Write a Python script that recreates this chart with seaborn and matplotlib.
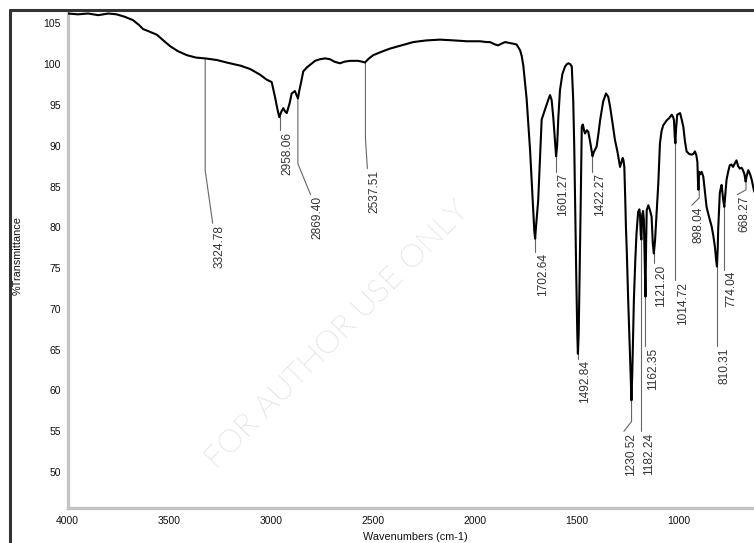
import matplotlib
matplotlib.use("Agg")
import numpy as np
import pandas as pd
import seaborn as sns
import matplotlib.pyplot as plt
from matplotlib.ticker import MultipleLocator
from matplotlib.lines import Line2D

# ---------------- data ----------------
wavenumbers = [
    4000, 3950, 3900, 3850, 3800, 3760, 3720, 3680, 3650, 3630, 3600, 3562, 3530, 3497,
    3460, 3415, 3370, 3325, 3267, 3220, 3186, 3150, 3104, 3055, 3023, 2998, 2982, 2970,
    2961, 2950, 2941, 2932, 2924, 2910, 2900, 2884, 2876, 2869, 2862, 2855, 2843, 2825,
    2810, 2785, 2761, 2735, 2712, 2690, 2663, 2640, 2613, 2590, 2573, 2555, 2540, 2520,
    2499, 2460, 2417, 2360, 2303, 2240, 2171, 2100, 2040, 1975, 1942, 1926, 1900, 1885,
    1870, 1852, 1830, 1811, 1795, 1778, 1770, 1762, 1746, 1729, 1716, 1708, 1704, 1700,
    1689, 1680, 1672, 1656, 1640, 1631, 1623, 1615, 1607, 1601, 1596, 1590, 1582, 1570,
    1557, 1548, 1541, 1532, 1524, 1517, 1512, 1508, 1502, 1497, 1494, 1490, 1485, 1480,
    1475, 1470, 1467, 1463, 1459, 1450, 1443, 1434, 1426, 1422, 1416, 1402, 1393, 1385,
    1370, 1356, 1345, 1336, 1324, 1312, 1300, 1287, 1280, 1274, 1270, 1266, 1262, 1258,
    1254, 1247, 1240, 1235, 1231, 1227, 1219, 1212, 1206, 1198, 1192, 1189, 1185, 1182,
    1178, 1174, 1170, 1166, 1162, 1159, 1156, 1148, 1140, 1132, 1126, 1121, 1115, 1107,
    1099, 1091, 1083, 1075, 1058, 1045, 1033, 1026, 1022, 1018, 1015, 1012, 1006, 992,
    985, 976, 968, 960, 948, 935, 927, 919, 912, 907, 904, 902, 900, 898, 893, 886, 878,
    870, 862, 850, 837, 829, 821, 815, 811, 807, 805, 797, 792, 788, 784, 780, 775, 770,
    764, 756, 748, 740, 732, 724, 715, 707, 699, 690, 683, 676, 670, 665, 657, 648, 640,
    630, 624,
]
transmittance = [
    106.2, 106.1, 106.2, 106.0, 106.2, 106.1, 105.8, 105.4, 104.8, 104.3, 104.0, 103.6, 102.9, 102.2,
    101.6, 101.1, 100.8, 100.7, 100.5, 100.2, 100.0, 99.8, 99.4, 98.7, 98.1, 97.8, 96.0, 94.5,
    93.5, 94.2, 94.6, 94.2, 94.0, 95.2, 96.4, 96.7, 96.2, 95.8, 96.8, 97.6, 99.1, 99.6,
    99.9, 100.4, 100.6, 100.7, 100.6, 100.3, 100.1, 100.3, 100.4, 100.4, 100.4, 100.3, 100.2, 100.7,
    101.1, 101.5, 101.9, 102.3, 102.7, 102.9, 103.0, 102.9, 102.8, 102.8, 102.7, 102.7, 102.4, 102.3,
    102.5, 102.7, 102.6, 102.5, 102.4, 101.7, 101.0, 99.8, 95.8, 89.5, 83.3, 79.5, 78.6, 80.0,
    83.3, 88.5, 93.2, 94.4, 95.6, 96.2, 95.6, 93.5, 90.7, 88.7, 90.0, 93.5, 96.8, 98.8,
    99.7, 100.0, 100.1, 100.0, 99.7, 95.6, 90.0, 83.3, 74.0, 67.0, 64.5, 67.0, 75.0, 83.3,
    92.3, 92.6, 92.3, 91.8, 91.5, 91.9, 91.7, 90.5, 89.3, 88.7, 89.2, 89.9, 91.5, 93.1,
    95.4, 96.4, 96.0, 94.8, 92.8, 90.7, 89.3, 87.4, 88.0, 88.5, 88.2, 87.4, 84.0, 80.0,
    77.2, 71.1, 66.0, 62.0, 58.8, 62.0, 71.1, 76.0, 79.3, 81.9, 82.2, 81.6, 79.0, 78.5,
    81.5, 82.0, 80.9, 76.0, 71.5, 78.0, 82.1, 82.7, 82.1, 81.3, 78.0, 76.8, 78.4, 82.0,
    85.4, 90.3, 91.8, 92.5, 93.1, 93.4, 93.8, 93.5, 93.1, 91.0, 90.3, 92.0, 93.8, 94.0,
    93.3, 92.3, 90.5, 89.3, 89.0, 88.9, 89.0, 89.3, 88.8, 88.0, 85.5, 84.6, 86.0, 86.8, 86.5, 86.8, 86.2,
    84.3, 82.5, 81.3, 80.1, 79.0, 77.6, 76.0, 75.2, 77.5, 79.7, 84.2, 84.8, 85.2, 84.3, 83.3, 82.5, 84.0,
    85.8, 86.8, 87.6, 87.7, 87.4, 87.8, 88.2, 87.5, 87.2, 87.3, 87.0, 86.5, 85.6, 86.3, 87.0, 86.5, 85.8,
    84.6, 84.2,
]

peak_labels = ["3324.78", "2958.06", "2869.40", "2537.51", "1702.64", "1601.27",
               "1492.84", "1422.27", "1230.52", "1182.24", "1162.35", "1121.20",
               "1014.72", "898.04", "810.31", "774.04", "668.27"]
peak_wavenumbers = [float(s) for s in peak_labels]

# layout of leader lines: (bend transmittance, end wavenumber, end transmittance)
label_layout = {
    "3324.78": (87.0, 3288, 80.5),
    "2958.06": (91.9, None, 91.9),
    "2869.40": (87.8, 2807, 84.0),
    "2537.51": (90.9, 2528, 87.2),
    "1702.64": (77.0, None, 77.0),
    "1601.27": (86.8, None, 86.8),
    "1492.84": (63.9, None, 63.9),
    "1422.27": (86.8, None, 86.8),
    "1230.52": (56.2, 1268, 55.0),
    "1182.24": (55.0, None, 55.0),
    "1162.35": (65.4, None, 65.4),
    "1121.20": (75.6, None, 75.6),
    "1014.72": (73.5, None, 73.5),
    "898.04": (83.6, 935, 82.7),
    "810.31": (65.4, None, 65.4),
    "774.04": (74.8, None, 74.8),
    "668.27": (84.6, 711, 84.0),
}

x_ticks = [4000, 3500, 3000, 2500, 2000, 1500, 1000]
y_ticks = [50, 55, 60, 65, 70, 75, 80, 85, 90, 95, 100, 105]

# ---------------- style ----------------
sns.set_style("white")
plt.rcParams["font.family"] = ["Liberation Sans", "DejaVu Sans"]

W, H = 754, 543
fig = plt.figure(figsize=(W / 100, H / 100), dpi=100)
ax = fig.add_axes([67.7 / W, 35 / H, (W - 67.7) / W, 497.5 / H])

df = pd.DataFrame({"wavenumber": wavenumbers, "transmittance": transmittance})
sns.lineplot(data=df, x="wavenumber", y="transmittance", sort=False, estimator=None,
             color="black", linewidth=1.5, ax=ax, zorder=3)

ax.set_xlim(4000, 629)
ax.set_ylim(45.6, 106.57)
ax.set_xticks(x_ticks)
ax.set_yticks(y_ticks)
ax.xaxis.set_minor_locator(MultipleLocator(100))
ax.yaxis.set_minor_locator(MultipleLocator(1))
ax.tick_params(axis="both", which="major", labelsize=7.5, length=3, width=1,
               color="#222222", direction="out", pad=2, labelcolor="#111111")
ax.tick_params(axis="both", which="minor", length=1.6, width=1, color="#333333", direction="out")
ax.tick_params(axis="x", which="major", pad=3)
ax.set_xlabel("")
ax.set_ylabel("")
for s in ["top", "right"]:
    ax.spines[s].set_visible(False)
for s in ["left", "bottom"]:
    ax.spines[s].set_color("#c4c4c4")
    ax.spines[s].set_linewidth(2.4)

# peak annotations
wn_rev = np.array(wavenumbers[::-1], dtype=float)
tr_rev = np.array(transmittance[::-1], dtype=float)
for lab, wp in zip(peak_labels, peak_wavenumbers):
    t_bend, w_end, t_end = label_layout[lab]
    if w_end is None:
        w_end = wp
    t_start = float(np.interp(wp, wn_rev, tr_rev))
    ax.plot([wp, wp, w_end], [t_start, t_bend, t_end], color="#666666", lw=0.8, zorder=2)
    ax.annotate(lab, xy=(w_end, t_end), xytext=(5.2, -1.0), textcoords="offset points",
                rotation=90, ha="center", va="top", fontsize=8.6, color="#333333")

# watermark
ax.text(2677, 66.8, "FOR AUTHOR USE ONLY", rotation=45.5, rotation_mode="anchor",
        fontsize=23, color="#bdbdbd", ha="center", va="center", zorder=1,
        family=["Lato", "Liberation Sans", "DejaVu Sans"], fontweight="light")

# axis titles
fig.text(415 / W, 1 - 537 / H, "Wavenumbers (cm-1)", ha="center", va="center",
         fontsize=7.8, color="#111111")
fig.text(18 / W, 1 - 256 / H, "%Transmittance", rotation=90, ha="center", va="center",
         fontsize=7.8, color="#111111")

# outer frame (left and top)
fig.add_artist(Line2D([10 / W, 10 / W], [0, 1 - 10 / H], transform=fig.transFigure,
                      color="#333333", lw=2.2))
fig.add_artist(Line2D([10 / W, 1], [1 - 10 / H, 1 - 10 / H], transform=fig.transFigure,
                      color="#333333", lw=2.2))

fig.savefig("out.png", dpi=100)
